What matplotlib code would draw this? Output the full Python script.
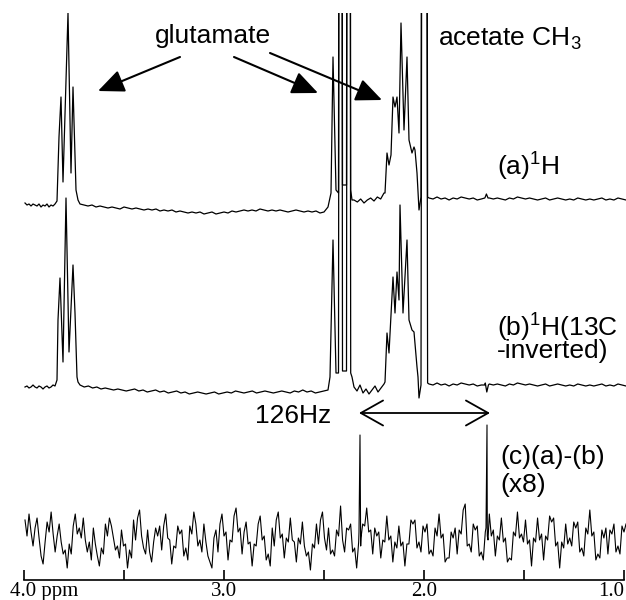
"""1H spectra of glutamate / acetate with 13C inversion difference"""
import numpy as np
import matplotlib
matplotlib.use("Agg")
import matplotlib.pyplot as plt
from matplotlib.transforms import ScaledTranslation

plt.rcParams["font.family"] = "Liberation Sans"
plt.rcParams["mathtext.fontset"] = "custom"
plt.rcParams["mathtext.rm"] = "Liberation Sans"

# ---- trace (a) 1H : ppm / intensity (a.u., relative to own baseline) ----
A_LEFT = [2, 0, 1, -1, 1, 0, -1, 1, -2, 0, -1, 1, -2, 0, -1, 1]            # 3.995 -> 3.845
A_GLU1_PPM = [3.835, 3.825, 3.815, 3.805, 3.78, 3.765, 3.755, 3.74, 3.73]
A_GLU1_VAL = [4, 68, 108, 23, 192, 32, 118, 15, 5]
A_MID = [1, 0, -1, 0, -2, -1, -2, -3, -2, -3, -4, -2, -3, -4, -3, -4, -5, -4, -5, -4,
         -6, -5, -6, -5, -7, -6, -7, -8, -7, -8, -7, -9, -8, -7, -9, -8, -7, -8, -6, -7,
         -6, -5, -6, -5, -6, -4, -5, -6, -5, -6, -5, -6, -7, -6, -5, -6, -7, -6, -7, -6,
         -8, -7]                                                              # 3.72 -> 2.50
A_GLU2_PPM = [2.48, 2.465, 2.455, 2.44, 2.4275, 2.424, 2.411, 2.4075, 2.3875, 2.384,
              2.37, 2.3665, 2.36]
A_GLU2_VAL = [-2, 12, 148, 15, 12, 700, 700, 20, 20, 700, 700, 15, 5]
A_GAP = [5, 3, 6, 2, 5, 7, 4, 8, 6, 12]                                      # 2.35 -> 2.20
A_GLU3_PPM = [2.195, 2.185, 2.175, 2.165, 2.155, 2.145, 2.135, 2.125, 2.115, 2.10,
              2.085, 2.075, 2.06, 2.05, 2.045, 2.035, 2.025, 2.015]
A_GLU3_VAL = [12, 52, 40, 50, 108, 98, 108, 72, 182, 75, 148, 65, 52, 58, 55, 32, -5, 8]
ACET_PPM = [2.0095, 1.9875, 1.982]
A_ACET_VAL = [700, 700, 8]
A_RIGHT = [7, 6, 8, 6, 7, 5, 7, 6, 8, 7, 6, 7, 5, 6, 8, 7, 6, 7, 6, 5, 7, 6, 8, 7, 6,
           7, 6, 5, 6, 7, 5, 6, 7, 6, 5, 6, 5, 7, 6, 5, 6, 5, 6, 7, 5, 6, 5, 7, 6, 5]  # 1.975 -> 0.99
A_BUMP_PPM = [1.696, 1.688, 1.68]
A_BUMP_VAL = [7, 11, 7]

# ---- trace (b) 1H(13C-inverted) ----
B_LEFT = [0, 1, -1, 0, 2, 0, -1, 1, 0, -2, 0, 1, -1, 0, 2, 1]
B_GLU1_PPM = [3.835, 3.83, 3.82, 3.805, 3.79, 3.775, 3.755, 3.745, 3.735, 3.73]
B_GLU1_VAL = [7, 67, 109, 25, 189, 35, 122, 74, 10, 5]
B_MID = [2, 0, 1, -1, 0, -2, -1, -2, -3, -2, -3, -4, -3, -2, -4, -3, -5, -4, -3, -5,
         -4, -6, -5, -4, -6, -5, -7, -6, -5, -6, -7, -6, -5, -7, -6, -5, -6, -4, -5, -6,
         -5, -4, -6, -5, -4, -5, -6, -5, -4, -5, -6, -4, -5, -3, -5, -4, -6, -5, -4, -3]
B_GLU2_PPM = [2.47, 2.455, 2.44, 2.4275, 2.424, 2.411, 2.4075, 2.3875, 2.384, 2.37,
              2.3665, 2.36]
B_GLU2_VAL = [10, 147, 14, 14, 700, 700, 16, 16, 700, 700, 14, 10]
B_GAP = [0, -4, 2, -6, -2, -7, -3, 1, -5, -1, 3]
B_GLU3_PPM = [2.195, 2.185, 2.175, 2.155, 2.145, 2.135, 2.125, 2.12, 2.105, 2.085,
              2.075, 2.06, 2.05, 2.035, 2.03, 2.025, 2.015]
B_GLU3_VAL = [5, 54, 34, 110, 74, 115, 87, 182, 74, 147, 67, 57, 55, 20, 10, -11, 2]
B_ACET_VAL = [700, 700, 4]
B_RIGHT = [3, 2, 4, 2, 3, 1, 3, 2, 4, 3, 2, 3, 1, 2, 4, 3, 2, 3, 2, 1, 3, 2, 4, 3, 2,
           3, 2, 1, 2, 3, 1, 2, 3, 2, 1, 2, 1, 3, 2, 1, 2, 1, 2, 3, 1, 2, 1, 3, 2, 1]
B_DIP_PPM = [1.696, 1.686, 1.678]
B_DIP_VAL = [2, -5, 2]

# ---- trace (c) (a)-(b) x8 ----
C_NOISE = [20, 4, 26, 8, -6, 12, 22, 2, -16, -24,
           -2, 18, 8, 28, 6, -12, 4, 16, -2, -14,
           -10, -28, -4, -14, 14, 26, 6, 12, 2, 22,
           0, -12, -2, -20, 12, -4, -16, -26, -8, -14,
           16, 4, 22, 14, 2, -10, -6, -18, 10, -6,
           -4, -28, -10, -18, 20, 0, 22, 30, 4, -8,
           -14, 10, -12, -22, -2, 12, 4, 14, -10, 14,
           26, 2, 0, -24, -6, -8, 14, 6, 10, -16,
           -8, -20, 14, 6, 28, 16, -6, 0, -12, 16,
           -2, -16, -22, -28, 2, 10, -12, 16, 26, 4,
           8, -20, 0, -2, 24, 32, 8, 12, -14, 8,
           18, -4, -2, -26, -4, -6, 16, 24, 0, 4,
           -20, -14, -26, 12, -6, 20, 28, 2, 6, -18,
           2, -2, 22, 0, -2, -22, 2, -4, 18, -6,
           -16, -12, -30, -4, -8, 16, -4, 20, 28, 2,
           -10, 12, -14, -10, -16, 10, 4, 34, 0, -12,
           12, 10, 16, -12, -8, -28, -2, -6, 16, 14,
           32, 8, 10, -14, 12, 4, 8, -18, 0, -2,
           24, 0, 4, -22, -2, -8, 14, -6, -2, -26,
           -4, -4, 20, 16, 20, -8, -2, -12, 14, 8,
           16, -14, -10, -16, 12, 4, 26, 2, 6, -22,
           -18, -18, 8, 2, 12, -14, 10, 6, 30, 36,
           -6, -4, -12, 16, 10, 14, -16, -12, -20, 8,
           4, 26, 4, 10, -16, 4, 0, 22, -2, 2,
           -22, -18, -20, 8, 4, 28, 2, 6, -2, 20,
           -4, 0, -26, 2, -2, 22, 0, 6, -20, 4,
           0, 24, 18, 22, -6, -2, -28, -2, -8, 16,
           -4, 2, -6, 18, 12, 18, -12, -8, -16, 12,
           6, 30, 4, 8, -20, -14, -18, 10, 2, 12,
           -14, 10, 6, 16, -12, -6, -14, 14, 8, 16]
C_PEAK_PPM = [2.325, 2.32, 2.315, 1.69, 1.685, 1.68]
C_PEAK_VAL = [8, 105, 2, 12, 115, 0]

TICKS = [4.0, 3.5, 3.0, 2.5, 2.0, 1.5, 1.0]
TICK_LABELS = ["4.0 ppm", "", "3.0", "", "2.0", "", "1.0"]


def span(start, stop, vals):
    return np.linspace(start, stop, len(vals)), vals


def trace(parts):
    x = np.concatenate([np.asarray(p, float) for p, v in parts])
    y = np.concatenate([np.asarray(v, float) for p, v in parts])
    order = np.argsort(-x, kind="stable")
    return x[order], y[order]


xa, ya = trace([span(3.995, 3.845, A_LEFT), (A_GLU1_PPM, A_GLU1_VAL),
                span(3.72, 2.50, A_MID), (A_GLU2_PPM, A_GLU2_VAL),
                span(2.35, 2.20, A_GAP), (A_GLU3_PPM, A_GLU3_VAL),
                (ACET_PPM, A_ACET_VAL), span(1.975, 0.99, A_RIGHT),
                (A_BUMP_PPM, A_BUMP_VAL)])
xb, yb = trace([span(3.995, 3.845, B_LEFT), (B_GLU1_PPM, B_GLU1_VAL),
                span(3.72, 2.48, B_MID), (B_GLU2_PPM, B_GLU2_VAL),
                span(2.35, 2.20, B_GAP), (B_GLU3_PPM, B_GLU3_VAL),
                (ACET_PPM, B_ACET_VAL), span(1.975, 0.99, B_RIGHT),
                (B_DIP_PPM, B_DIP_VAL)])
xc, yc = trace([span(3.995, 0.99, C_NOISE), (C_PEAK_PPM, C_PEAK_VAL)])

fig = plt.figure(figsize=(6.26, 6.0), dpi=100)
ax = fig.add_axes([24 / 626, 20 / 600, 602 / 626, 567 / 600])

# stacked traces, offsets put the baselines where they sit in the figure
ax.plot(xa, ya + 377, color="black", lw=0.9)
ax.plot(xb, yb + 195, color="black", lw=0.9)
ax.plot(xc, yc + 42, color="black", lw=0.8)

ax.set_xlim(4.0, 0.99)
ax.set_ylim(2, 569)
ax.set_yticks([])
for side in ["left", "right", "top"]:
    ax.spines[side].set_visible(False)
ax.spines["bottom"].set_linewidth(1.2)
ax.spines["bottom"].set_bounds(1.0, 4.0)
ax.set_xticks(TICKS)
ax.set_xticklabels(TICK_LABELS)
ax.tick_params(axis="x", direction="in", length=7, width=1.2, pad=1.5, labelsize=15)
labels = ax.get_xticklabels()
for lab in labels:
    lab.set_fontfamily("Liberation Serif")
labels[0].set_horizontalalignment("left")
labels[0].set_transform(labels[0].get_transform()
                        + ScaledTranslation(-0.14, 0, fig.dpi_scale_trans))
labels[-1].set_horizontalalignment("right")

# annotations
ax.text(3.055, 539, "glutamate", ha="center", va="baseline", fontsize=19)
head = dict(arrowstyle="-|>,head_length=0.8,head_width=0.35", mutation_scale=20,
            color="black", lw=1.5, shrinkA=0, shrinkB=0)
ax.annotate("", xy=(3.63, 491), xytext=(3.22, 525), arrowprops=head)
ax.annotate("", xy=(2.53, 489), xytext=(2.95, 525), arrowprops=head)
ax.annotate("", xy=(2.21, 482), xytext=(2.77, 529), arrowprops=head)
ax.text(1.93, 537, "acetate CH$_3$", ha="left", va="baseline", fontsize=19)
ax.text(1.635, 407, "(a)$^1$H", ha="left", va="baseline", fontsize=19)
# multi-line texts: baseline given for the last line
ax.text(1.635, 224, "(b)$^1$H(13C\n-inverted)", ha="left", va="baseline",
        fontsize=19, linespacing=0.8)
ax.text(2.845, 159, "126Hz", ha="left", va="baseline", fontsize=19)
ax.annotate("", xy=(1.67, 169), xytext=(2.325, 169),
            arrowprops=dict(arrowstyle="<->,head_length=0.8,head_width=0.45",
                            mutation_scale=20, color="black", lw=1.3,
                            shrinkA=0, shrinkB=0))
ax.text(1.62, 90, "(c)(a)-(b)\n(x8)", ha="left", va="baseline", fontsize=19,
        linespacing=1.2)

fig.savefig("out.png", dpi=100)
